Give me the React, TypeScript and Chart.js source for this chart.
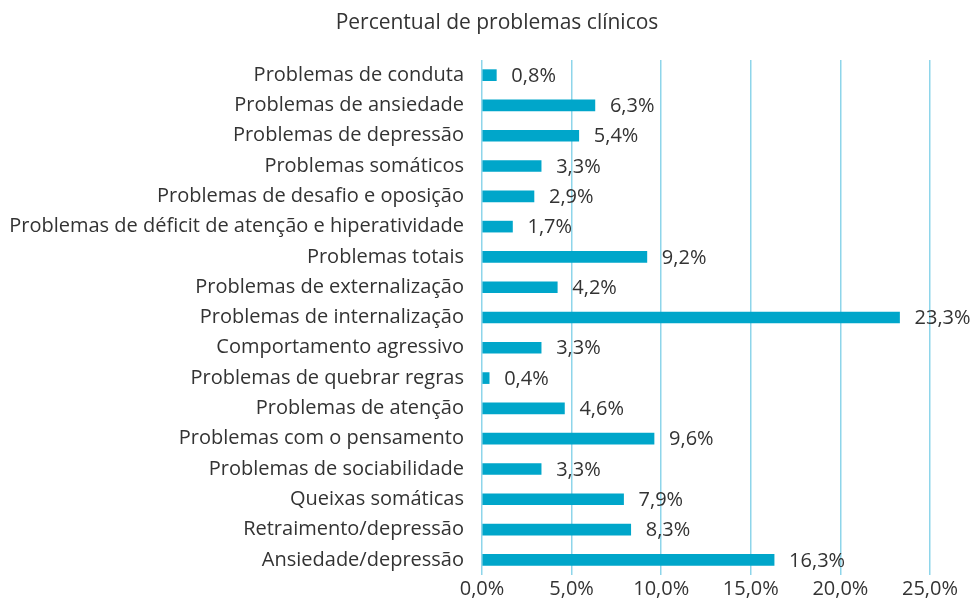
import React, { useEffect, useRef } from "react";
import { Chart, registerables } from "chart.js";

Chart.register(...registerables);

const titleText = "Percentual de problemas clínicos";
const categories = [
  "Problemas de conduta",
  "Problemas de ansiedade",
  "Problemas de depressão",
  "Problemas somáticos",
  "Problemas de desafio e oposição",
  "Problemas de déficit de atenção e hiperatividade",
  "Problemas totais",
  "Problemas de externalização",
  "Problemas de internalização",
  "Comportamento agressivo",
  "Problemas de quebrar regras",
  "Problemas de atenção",
  "Problemas com o pensamento",
  "Problemas de sociabilidade",
  "Queixas somáticas",
  "Retraimento/depressão",
  "Ansiedade/depressão",
];
const values = [0.8, 6.3, 5.4, 3.3, 2.9, 1.7, 9.2, 4.2, 23.3, 3.3, 0.4, 4.6, 9.6, 3.3, 7.9, 8.3, 16.3];
const xMin = 0;
const xMax = 25;
const xStep = 5;

const FONT = "'Open Sans', 'Noto Sans', sans-serif";
const fmt = (v: number, d: number) => v.toFixed(d).replace(".", ",") + "%";

const valueLabels = {
  id: "valueLabels",
  afterDatasetsDraw(chart: any) {
    const ctx = chart.ctx;
    const meta = chart.getDatasetMeta(0);
    ctx.save();
    ctx.font = `20px ${FONT}`;
    ctx.fillStyle = "#333333";
    ctx.textAlign = "left";
    ctx.textBaseline = "middle";
    meta.data.forEach((bar: any, i: number) => {
      ctx.fillText(fmt(values[i], 1), bar.x + 15, bar.y + 1);
    });
    // title
    ctx.font = `21px ${FONT}`;
    ctx.textAlign = "center";
    ctx.fillText(titleText, 497, 23);
    ctx.restore();
  },
};

export default function App() {
  const ref = useRef<HTMLCanvasElement | null>(null);
  useEffect(() => {
    document.body.style.margin = "0";
    const chart = new Chart(ref.current as HTMLCanvasElement, {
      type: "bar",
      data: {
        labels: categories,
        datasets: [
          {
            data: values,
            backgroundColor: "#00A6CA",
            barThickness: 11,
          },
        ],
      },
      options: {
        indexAxis: "y",
        animation: false,
        responsive: false,
        maintainAspectRatio: false,
        layout: { padding: { left: 10, right: 42, top: 60, bottom: 2 } },
        plugins: {
          legend: { display: false },
          tooltip: { enabled: false },
          title: { display: false },
        },
        scales: {
          x: {
            min: xMin,
            max: xMax,
            ticks: {
              stepSize: xStep,
              color: "#333333",
              font: { family: FONT, size: 20 },
              padding: 2,
              callback: (v: any) => fmt(Number(v), 1),
            },
            grid: { color: "#8ED5EA", lineWidth: 1.5, drawTicks: false },
            border: { display: false },
          },
          y: {
            afterFit: (scale: any) => {
              scale.width = 472;
            },
            ticks: {
              color: "#333333",
              font: { family: FONT, size: 20 },
              padding: 18,
              autoSkip: false,
            },
            grid: { display: false, drawTicks: false },
            border: { display: false },
          },
        },
      },
      plugins: [valueLabels],
    });
    return () => chart.destroy();
  }, []);
  return (
    <div style={{ width: 972, height: 605 }}>
      <canvas ref={ref} width={972} height={605} />
    </div>
  );
}
